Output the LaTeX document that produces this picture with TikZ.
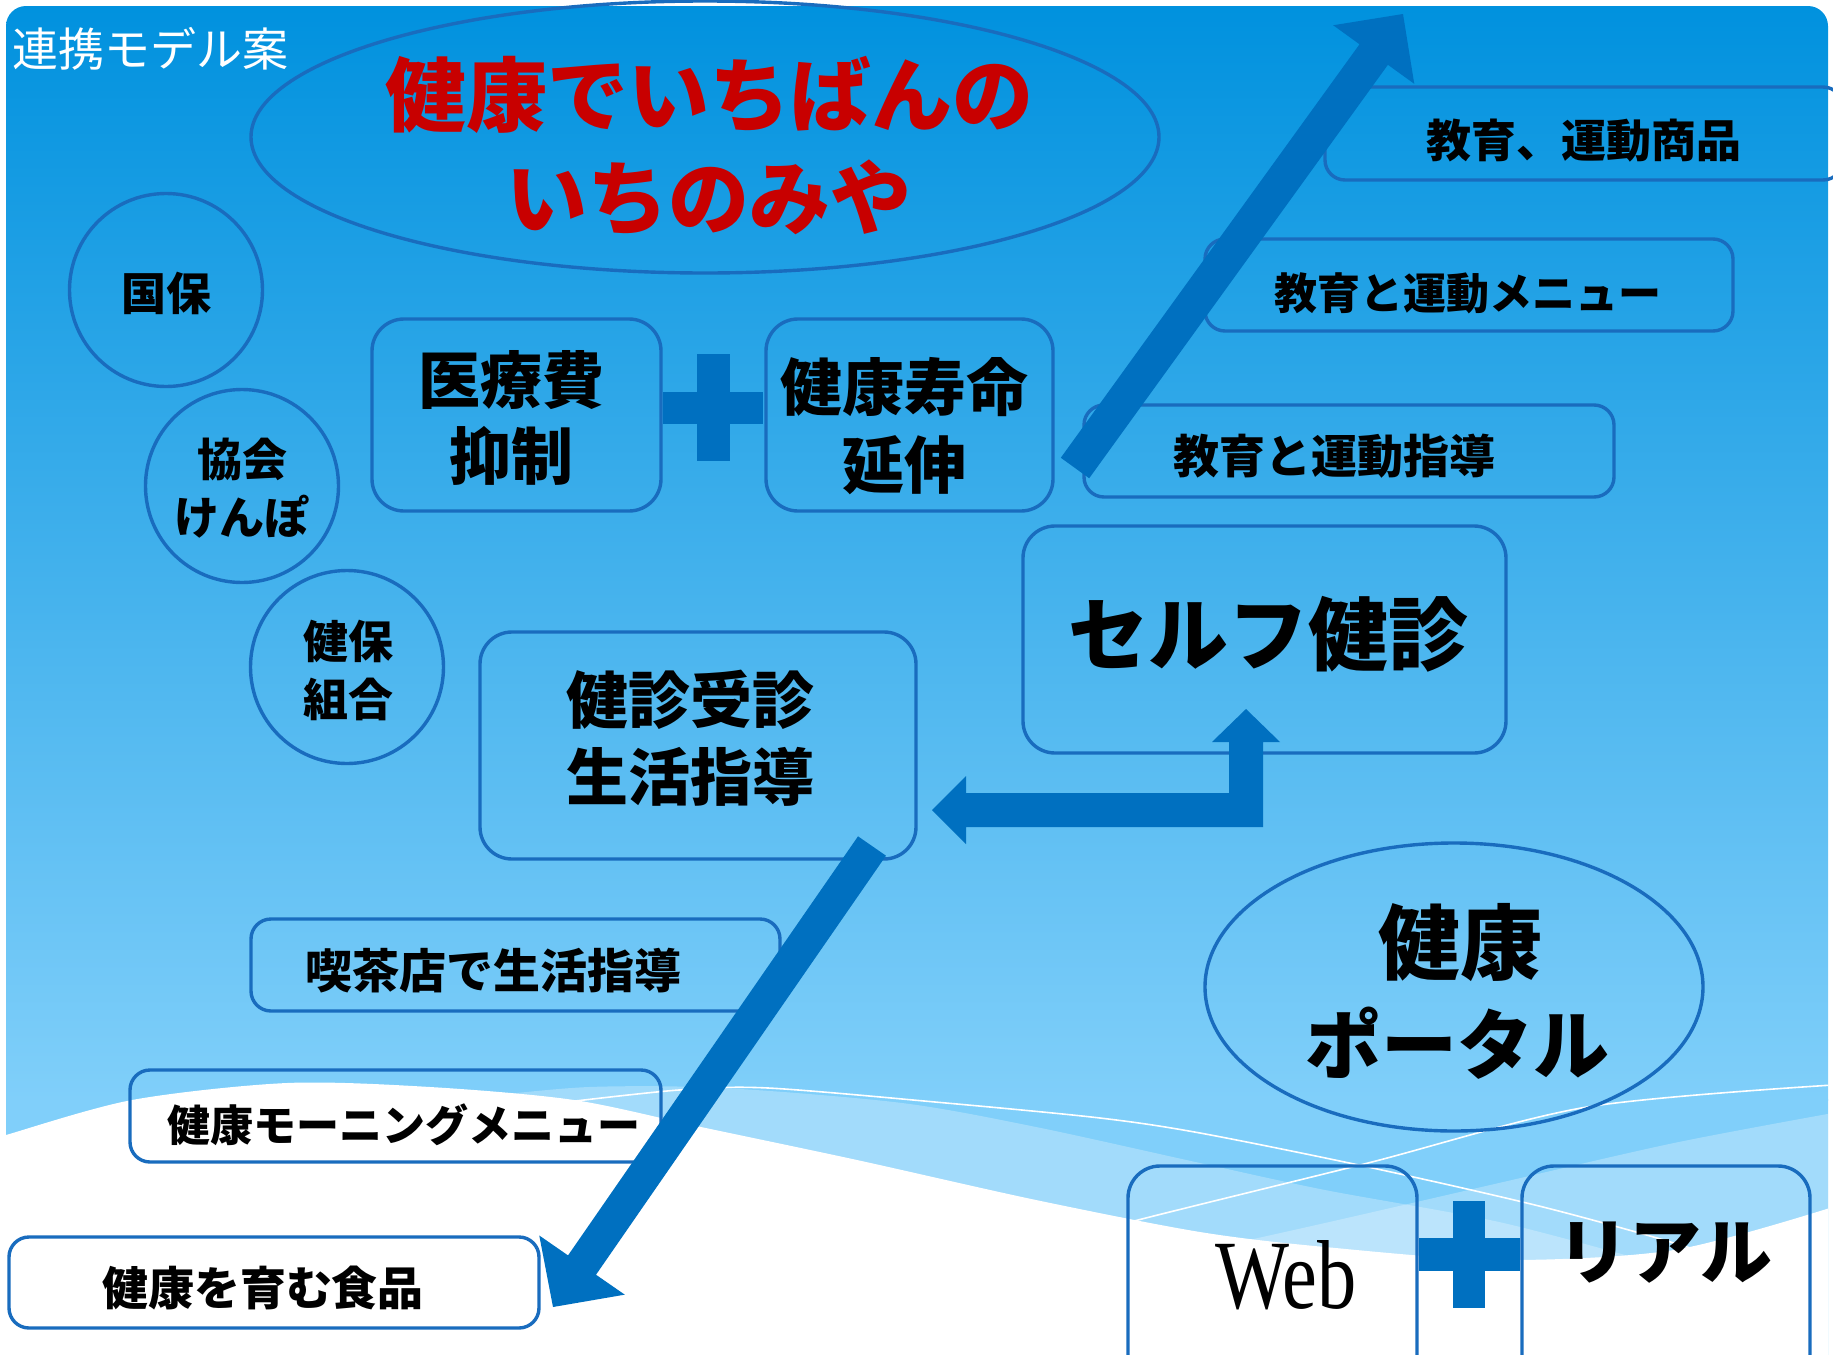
\documentclass[tikz,border=0pt]{standalone}
\usepackage{fontspec}
\newfontfamily\jpfont{Noto Sans CJK JP}
\newfontfamily\webfont{Liberation Serif}
\usetikzlibrary{calc,shapes.geometric}
\definecolor{bgtop}{HTML}{0091DE}
\definecolor{bgmid}{HTML}{46A8E8}
\definecolor{bgbot}{HTML}{80CFFA}
\definecolor{lineblue}{HTML}{196CBE}
\definecolor{arrowblue}{HTML}{0070C0}
\definecolor{titlered}{HTML}{C80000}
\tikzset{
  outl/.style={draw=lineblue, line width=1.7pt, inner sep=0pt},
  sbox/.style={outl, rounded corners=10pt},
  bbox/.style={outl, rounded corners=16pt},
  oval/.style={outl, ellipse},
  jt/.style 2 args={inner sep=0pt, align=center, text=black, font=\jpfont\bfseries\fontsize{#1pt}{#2pt}\selectfont},
  wline/.style={white, line width=0.8pt},
  band/.style={white, fill opacity=0.27},
}
% block arrow: #1 start, #2 tip, #3 half shaft width, #4 half head width, #5 head length
\newcommand\blkarrow[5]{%
  \coordinate (bh) at ($(#2)!#5!(#1)$);
  \fill[arrowblue] ($(#1)!#3!90:(#2)$) -- ($(bh)!#3!90:(#2)$) -- ($(bh)!#4!90:(#2)$) -- (#2)
    -- ($(bh)!#4!-90:(#2)$) -- ($(bh)!#3!-90:(#2)$) -- ($(#1)!#3!-90:(#2)$) -- cycle;
}
\begin{document}
\begin{tikzpicture}[x=0.5pt,y=-0.5pt]
\useasboundingbox (0,0) rectangle (1833,1355);
\clip (0,0) rectangle (1833,1355);
% slide background
\begin{scope}
  \clip[rounded corners=10pt] (6,6) rectangle (1828,1420);
  \shade[top color=bgtop, middle color=bgmid, bottom color=bgbot] (0,0) rectangle (1833,1100);
  \fill[bgbot] (0,1099) rectangle (1833,1420);
  \fill[band] plot[smooth] coordinates {(480,1097) (589,1087) (723,1088) (902,1103) (1036,1127) (1200,1163) (1325,1190) (1499,1222) (1650,1262)} -- (1650,1420) -- (480,1420) -- cycle;
  \fill[band] plot[smooth] coordinates {(1150,1262) (1325,1223) (1499,1183) (1674,1143) (1833,1113)} -- (1833,1420) -- (1150,1420) -- cycle;
  \draw[wline] plot[smooth] coordinates {(567,1102) (679,1090) (768,1088) (946,1103) (1100,1118) (1200,1133) (1368,1167) (1543,1207) (1687,1247) (1760,1275)};
  \draw[wline] plot[smooth] coordinates {(1050,1245) (1138,1220) (1368,1163) (1587,1107) (1833,1085)};
  \fill[white] plot[smooth] coordinates {(0,1137) (6,1135) (132,1100) (287,1083) (430,1087) (574,1100) (701,1127) (857,1160) (1036,1200) (1200,1232) (1325,1247) (1499,1260) (1674,1250) (1833,1207)} -- (1833,1420) -- (0,1420) -- cycle;
\end{scope}

% title
\node[inner sep=0pt, text=white, font=\jpfont\fontsize{23pt}{28pt}\selectfont] (title) at (150,49) {連携モデル案};

% top ellipse
\node[oval, minimum width=454pt, minimum height=136pt] (topoval) at (705,137) {};
\node[inner sep=0pt, align=center, text=titlered, font=\jpfont\bfseries\fontsize{40.5pt}{51.5pt}\selectfont] (t-red) at (709,146.5) {健康でいちばんの\\いちのみや};

% insurers
\node[oval, minimum size=96.5pt] (kokuho) at (166,290) {};
\node[oval, minimum size=96.5pt] (kyokai) at (242,486) {};
\node[oval, minimum size=96.5pt] (kenpo) at (347,667) {};
\node[jt={22.5}{29}] (t-kokuho) at (166,293) {国保};
\node[jt={22.5}{29}] (t-kyokai) at (242,488) {協会\\けんぽ};
\node[jt={22.5}{29}] (t-kenpo) at (348,670) {健保\\組合};

% goals
\node[bbox, minimum width=144.5pt, minimum height=96pt] (iryo) at (516.5,415) {};
\node[bbox, minimum width=143.5pt, minimum height=96pt] (jumyo) at (909.5,415) {};
\node[jt={31}{38}] (t-iryo) at (511,418) {医療費\\抑制};
\node[jt={31}{39}] (t-jumyo) at (904,426) {健康寿命\\延伸};
\fill[arrowblue] (697,354) rectangle (730,461);
\fill[arrowblue] (663,392) rectangle (763,424);

% right boxes
\node[sbox, minimum width=259pt, minimum height=46.5pt] (kyo1) at (1584,133.5) {};
\node[sbox, minimum width=264pt, minimum height=46pt] (kyo2) at (1469,285) {};
\node[sbox, minimum width=265pt, minimum height=46pt] (kyo3) at (1349,451) {};
\node[jt={22.5}{27}] (t-kyo1) at (1584,141) {教育、運動商品};
\node[jt={21.5}{26}] (t-kyo2) at (1468,293) {教育と運動メニュー};
\node[jt={23}{28}] (t-kyo3) at (1334,456) {教育と運動指導};

% self check & checkup
\node[bbox, minimum width=241.5pt, minimum height=113.5pt] (self) at (1264.5,639.5) {};
\node[jt={40}{48}] (t-self) at (1268,634) {セルフ健診};
\node[bbox, minimum width=218pt, minimum height=113.5pt] (kenshin) at (698,745.5) {};
\node[jt={31}{38.5}] (t-kenshin) at (690,738) {健診受診\\生活指導};

% lower boxes
\node[sbox, minimum width=264.5pt, minimum height=46pt] (kissa) at (515.5,965) {};
\node[sbox, minimum width=265.5pt, minimum height=46pt] (morning) at (395.5,1116) {};
\node[sbox, minimum width=265pt, minimum height=45.5pt] (food) at (274,1282.5) {};
\node[jt={23.5}{28}] (t-kissa) at (493,971) {喫茶店で生活指導};
\node[jt={21.5}{26}] (t-morning) at (404,1125) {健康モーニングメニュー};
\node[jt={23}{28}] (t-food) at (263,1288) {健康を育む食品};

% portal
\node[oval, minimum width=249pt, minimum height=144pt] (portal) at (1454,987) {};
\node[jt={41}{48}] (t-portal1) at (1460,942) {健康};
\node[jt={38}{45}] (t-portal2) at (1457,1043) {ポータル};

% web + real
\node[bbox, minimum width=144.5pt, minimum height=150pt] (web) at (1272.5,1316) {};
\node[bbox, minimum width=144pt, minimum height=150pt] (real) at (1666,1316) {};
\node[inner sep=0pt, font=\webfont\fontsize{49pt}{55pt}\selectfont] (t-web) at (1286,1275) {\scalebox{0.8}[1]{Web}};
\node[jt={36}{42}] (t-real) at (1665,1253) {リアル};
\fill[arrowblue] (1453,1201) rectangle (1485,1308);
\fill[arrowblue] (1419,1238) rectangle (1520,1271);

% arrows
\coordinate (upS) at (1075,468);
\coordinate (upE) at (1403,14);
\blkarrow{upS}{upE}{8.75pt}{25pt}{25pt}
\coordinate (dnS) at (872,846);
\coordinate (dnE) at (553,1307);
\blkarrow{dnS}{dnE}{8.5pt}{26pt}{25.5pt}
% elbow double arrow between self check and checkup
\coordinate (eL) at (932,810);
\coordinate (eU) at (1246,709);
\fill[arrowblue] (eL) -- ++(34,-34) -- ++(0,17) -- (1229,793) -- (1229,742) -- (1212,742) -- (eU)
  -- (1280,742) -- (1263,742) -- (1263,827) -- (966,827) -- (966,844) -- cycle;
\end{tikzpicture}
\end{document}
